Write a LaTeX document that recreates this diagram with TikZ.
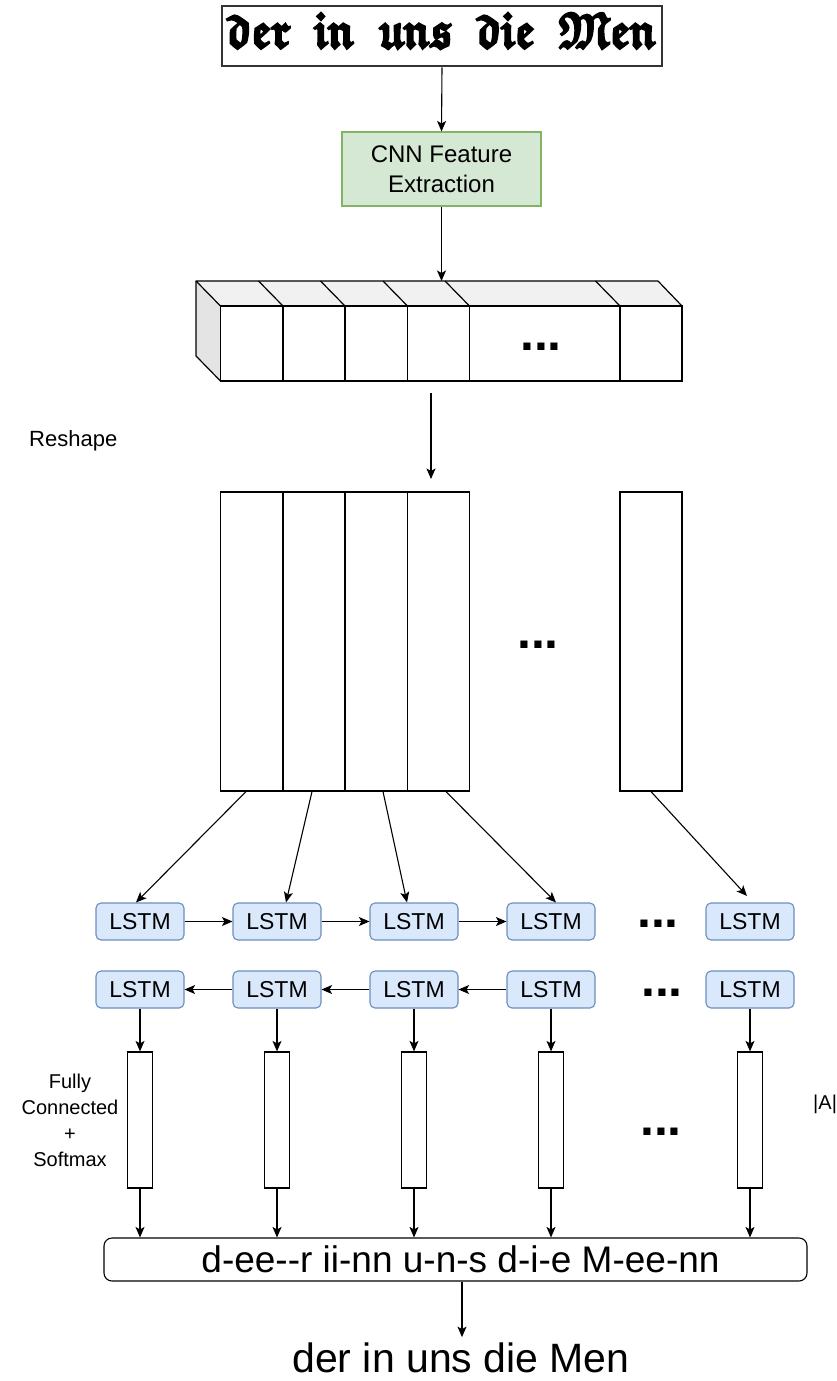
\documentclass[tikz,border=0pt]{standalone}
\usepackage{fontspec}
\setmainfont{Liberation Sans}
\usepackage{amssymb}
\usepackage{graphicx}
\usetikzlibrary{arrows.meta}
\definecolor{cnnF}{HTML}{D5E8D4}
\definecolor{cnnB}{HTML}{82B366}
\definecolor{lstmF}{HTML}{DAE8FC}
\definecolor{lstmB}{HTML}{6C8EBF}
\definecolor{topF}{HTML}{F1F1F1}
\definecolor{sideF}{HTML}{E4E4E4}
\definecolor{imgB}{HTML}{333333}
\newcommand{\fakebold}[1]{\special{pdf:literal direct 2 Tr 0.45 w}#1\special{pdf:literal direct 0 Tr}}
\begin{document}
\begin{tikzpicture}[x=1pt,y=-1pt,
  arr/.style={-{Stealth[length=10.5pt,width=9pt,inset=2.5pt]}, line width=1.1pt},
  cell/.style={draw, line width=1.2pt, inner sep=0pt, minimum height=75pt},
  tall/.style={draw, line width=1.2pt, inner sep=0pt, minimum height=299pt},
  lstm/.style={draw=lstmB, fill=lstmF, rounded corners=5pt, line width=1.1pt,
     minimum width=88pt, minimum height=37pt, inner sep=0pt,
     font=\fontsize{23}{28}\selectfont},
  fc/.style={draw, line width=1.2pt, inner sep=0pt, minimum width=25pt, minimum height=136pt},
  dots/.style={font=\fontsize{50}{50}\selectfont\bfseries, inner sep=0pt, anchor=base},
  lbl/.style={inner sep=0pt}
]
\useasboundingbox (0,0) rectangle (837,1381);

% input image
\node[draw=imgB, line width=2pt, minimum width=440pt, minimum height=60pt, inner sep=0pt,
      text height=35pt, text depth=13pt] (img) at (442,36.5)
  {\resizebox{430pt}{35pt}{\fakebold{{\boldmath$\mathfrak{der}\mkern9mu\mathfrak{in}\mkern9mu\mathfrak{uns}\mkern9mu\mathfrak{die}\mkern9mu\mathfrak{Men}$}}}};

% CNN
\node[draw=cnnB, fill=cnnF, line width=1.1pt, minimum width=199pt, minimum height=74pt,
      inner sep=0pt, align=center, font=\fontsize{24}{30}\selectfont] (cnn) at (441.5,169)
  {CNN Feature\\Extraction};

% 3D feature block
\fill[topF] (196,281) -- (658,281) -- (682,306) -- (220.5,306) -- cycle;
\fill[sideF] (196,281) -- (220.5,306) -- (220.5,381) -- (196,356) -- cycle;
\draw[line width=1.2pt, line join=round] (220.5,306) -- (196,281) -- (658,281) -- (682,306);
\draw[line width=1.2pt, line join=round] (196,281) -- (196,356) -- (220.5,381);
\foreach \xx in {283,345,407.5,469.5,620}
  \draw[line width=1.2pt] (\xx,306) -- (\xx-24.5,281);
\node[cell, minimum width=62.5pt] (c1) at (251.75,343.5) {};
\node[cell, minimum width=62pt]   (c2) at (314,343.5) {};
\node[cell, minimum width=62.5pt] (c3) at (376.25,343.5) {};
\node[cell, minimum width=62pt]   (c4) at (438.5,343.5) {};
\node[cell, minimum width=150.5pt] (c5) at (544.75,343.5) {};
\node[cell, minimum width=62pt]   (c6) at (651,343.5) {};
\node[dots] (d1) at (541,350.6) {...};
\coordinate (blocktop) at (441.5,281);

% reshape
\node[lbl, anchor=base west, font=\fontsize{22}{26}\selectfont] (reshape) at (29,446) {Reshape};
\coordinate (rs1) at (431,393);
\coordinate (rs2) at (431,479);

% tall columns
\node[tall, minimum width=62.5pt] (t1) at (251.75,641.5) {};
\node[tall, minimum width=62pt]   (t2) at (314,641.5) {};
\node[tall, minimum width=62.5pt] (t3) at (376.25,641.5) {};
\node[tall, minimum width=62pt]   (t4) at (438.5,641.5) {};
\node[tall, minimum width=62pt]   (t5) at (651,641.5) {};
\node[dots] (d2) at (538,648.6) {...};

% LSTM rows
\foreach \i/\xx in {1/140,2/277,3/414,4/551,5/750}{
  \node[lstm] (f\i) at (\xx,921.5) {LSTM};
  \node[lstm] (b\i) at (\xx,989.5) {LSTM};
  \node[fc] (s\i) at (\xx,1120) {};
}
\node[dots] (d3) at (658,927.6) {...};
\node[dots] (d4) at (662,996.6) {...};
\node[dots] (d5) at (661,1135) {...};
\coordinate (e5) at (747,896);

% labels
\node[lbl, anchor=north, align=center, font=\fontsize{20}{26}\selectfont] (fcl) at (70,1073.4)
  {Fully\\Connected\\+\\Softmax};
\node[lbl, anchor=base west, font=\fontsize{20}{24}\selectfont] (alpha) at (813,1109) {|A|};

% output
\node[draw, rounded corners=8pt, line width=1.1pt, minimum width=703pt, minimum height=43pt,
      inner sep=0pt, font=\fontsize{37}{41}\selectfont] (out) at (455.5,1259.5)
  {\hspace*{10pt}d-ee-\kern0pt-r ii-nn u-n-s d-i-e M-ee-nn};
\node[anchor=base, inner sep=5pt, font=\fontsize{41}{46}\selectfont] (final) at (461,1372)
  {der in uns die Men};

% connectors
\draw[arr] (img.south) -- (cnn.north);
\draw[arr] (cnn.south) -- (blocktop);
\draw[arr] (rs1) -- (rs2);
\draw[arr] ([xshift=-5.75pt]t1.south) -- ([xshift=-4pt]f1.north);
\draw[arr] ([xshift=-2pt]t2.south) -- ([xshift=9pt]f2.north);
\draw[arr] ([xshift=6.75pt]t3.south) -- ([xshift=-7pt]f3.north);
\draw[arr] ([xshift=7.5pt]t4.south) -- ([xshift=5pt]f4.north);
\draw[arr] (t5.south) -- (e5);
\draw[arr] (f1.east) -- (f2.west);
\draw[arr] (f2.east) -- (f3.west);
\draw[arr] (f3.east) -- (f4.west);
\draw[arr] (b2.west) -- (b1.east);
\draw[arr] (b3.west) -- (b2.east);
\draw[arr] (b4.west) -- (b3.east);
\foreach \i in {1,...,5}{
  \draw[arr] (b\i.south) -- (s\i.north);
  \draw[arr] (s\i.south) -- (s\i.south |- out.north);
}
\draw[arr] ([xshift=6.5pt]out.south) -- ([xshift=1pt]final.north);
\end{tikzpicture}
\end{document}
